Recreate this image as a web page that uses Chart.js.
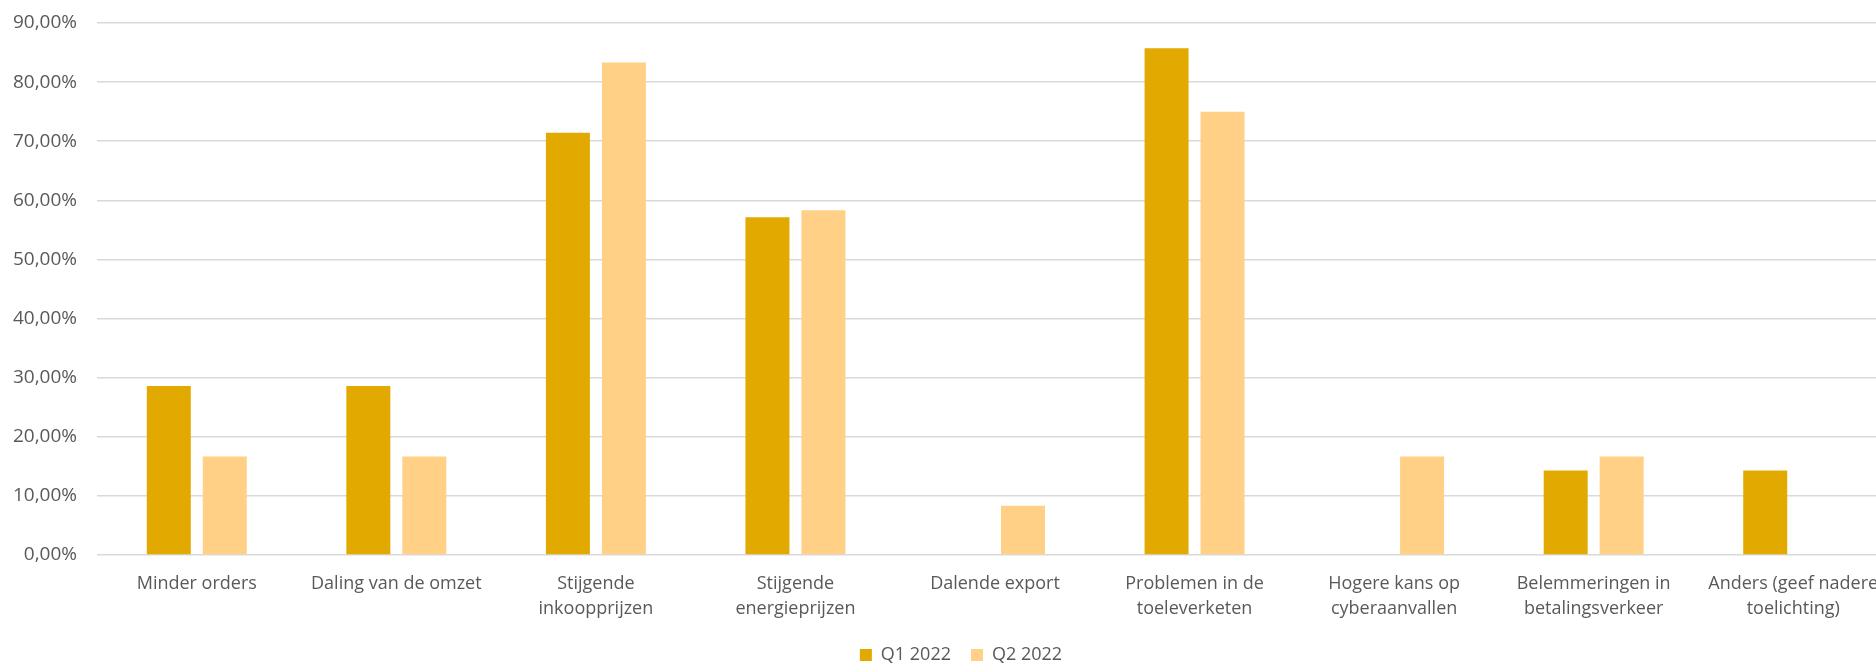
<!DOCTYPE html>
<html lang="nl">
<head>
<meta charset="utf-8">
<title>Gevolgen Q1 en Q2 2022</title>
<script src="https://cdn.jsdelivr.net/npm/chart.js@4"></script>
<style>
  html, body { margin: 0; padding: 0; background: #fff; overflow: hidden; }
  #wrap { width: 1920px; height: 663px; position: relative; }
</style>
</head>
<body>
<div id="wrap"><canvas id="grafiek"></canvas></div>
<script>
const categorieen = [
  "Minder orders",
  "Daling van de omzet",
  ["Stijgende", "inkoopprijzen"],
  ["Stijgende", "energieprijzen"],
  "Dalende export",
  ["Problemen in de", "toeleverketen"],
  ["Hogere kans op", "cyberaanvallen"],
  ["Belemmeringen in", "betalingsverkeer"],
  ["Anders (geef nadere", "toelichting)"]
];

const q1Waarden = [28.57, 28.57, 71.43, 57.14, 0, 85.71, 0, 14.29, 14.29];
const q2Waarden = [16.67, 16.67, 83.33, 58.33, 8.33, 75.00, 16.67, 16.67, 0];

const yTicks = [0, 10, 20, 30, 40, 50, 60, 70, 80, 90];

const tekstKleur = "#595959";
const lijnKleur = "#d9d9d9";
const lettertype = "'Open Sans', 'Liberation Sans', sans-serif";

function formatPercentage(waarde) {
  return Number(waarde).toFixed(2).replace(".", ",") + "%";
}

// legenda iets naar rechts, zoals in het origineel
const legendaVerschuiven = {
  id: "legendaVerschuiven",
  afterLayout(chart) {
    if (chart.legend) {
      chart.legend.left += 8;
      chart.legend.right += 8;
    }
  }
};

const ctx = document.getElementById("grafiek").getContext("2d");

new Chart(ctx, {
  type: "bar",
  data: {
    labels: categorieen,
    datasets: [
      {
        label: "Q1 2022",
        data: q1Waarden,
        backgroundColor: "#e2aa00",
        categoryPercentage: 0.561,
        barPercentage: 0.786
      },
      {
        label: "Q2 2022",
        data: q2Waarden,
        backgroundColor: "#ffd086",
        categoryPercentage: 0.561,
        barPercentage: 0.786
      }
    ]
  },
  options: {
    responsive: true,
    maintainAspectRatio: false,
    animation: false,
    layout: {
      padding: { top: 0, left: 13, right: 27, bottom: -11 }
    },
    scales: {
      x: {
        grid: { display: false, drawTicks: false },
        border: { display: false },
        afterFit: scale => { scale.height = 71; },
        ticks: {
          color: tekstKleur,
          padding: 16,
          maxRotation: 0,
          autoSkip: false,
          font: { family: lettertype, size: 18, lineHeight: 1.4 }
        }
      },
      y: {
        min: 0,
        max: 90,
        afterBuildTicks: axis => {
          axis.ticks = yTicks.map(v => ({ value: v }));
        },
        afterFit: scale => {
          scale.width = 84;
          scale.paddingTop = 23;
          scale.paddingBottom = 0;
        },
        grid: { color: lijnKleur, lineWidth: 1.5, drawTicks: false },
        border: { display: false },
        ticks: {
          color: tekstKleur,
          padding: 20,
          font: { family: lettertype, size: 19 },
          callback: value => formatPercentage(value)
        }
      }
    },
    plugins: {
      tooltip: { enabled: false },
      legend: {
        position: "bottom",
        labels: {
          color: tekstKleur,
          boxWidth: 12,
          boxHeight: 12,
          padding: 20,
          font: { family: lettertype, size: 18 }
        }
      }
    }
  },
  plugins: [legendaVerschuiven]
});
</script>
</body>
</html>
